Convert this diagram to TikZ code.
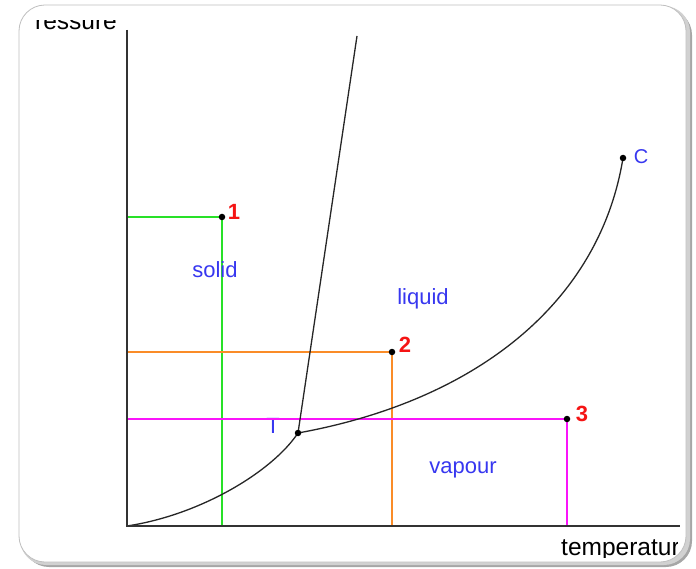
\documentclass[tikz,border=0pt]{standalone}
\usepackage{fontspec}
\setmainfont{Liberation Sans}
\definecolor{phaseblue}{RGB}{55,55,240}
\definecolor{ptred}{RGB}{245,20,20}
\definecolor{linegreen}{RGB}{40,225,40}
\definecolor{lineorange}{RGB}{250,140,40}
\definecolor{linemagenta}{RGB}{250,20,250}
\tikzset{
  dot/.style={circle,fill=black,inner sep=0pt,minimum size=6.5pt},
  phaselab/.style={text=phaseblue,font=\fontsize{22}{24}\selectfont,inner sep=0pt},
  numlab/.style={text=ptred,font=\fontsize{22}{24}\selectfont\bfseries,inner sep=0pt},
  axislab/.style={font=\fontsize{24.5}{26}\selectfont,inner sep=0pt},
  curve/.style={line width=1.3pt,black!85},
}
\begin{document}
\begin{tikzpicture}[x=1pt,y=-1pt]
\useasboundingbox (0,0) rectangle (696,569);
\fill[black!35,rounded corners=26pt] (23,9) rectangle (692,567);
\fill[black!18,rounded corners=26pt] (20,6) rectangle (690,565);
\filldraw[fill=white,draw=black!25,line width=0.8pt,rounded corners=26pt] (19,5) rectangle (686,562);

\coordinate (O) at (127,526);
\coordinate (ytop) at (127,30);
\coordinate (xend) at (680,526);
\coordinate (fus) at (357,36);
\coordinate (c1) at (222,217);
\coordinate (c2) at (392,352);
\coordinate (c3) at (567,419);
\coordinate (ct) at (298,433);
\coordinate (cc) at (623,158);

\begin{scope}
\clip (36,21) rectangle (677,557);
\node[axislab,anchor=base east] (plab) at (117,30) {pressure};
\node[axislab,anchor=base west] (tlab) at (561,555) {temperature};
\end{scope}

\node[phaselab,anchor=north] (tname) at (273,418) {T};

\draw[linegreen,line width=1.6pt] (O |- c1) -- (c1) -- (c1 |- O);
\draw[lineorange,line width=1.6pt] (O |- c2) -- (c2) -- (c2 |- O);
\draw[linemagenta,line width=1.6pt] (O |- c3) -- (c3) -- (c3 |- O);

\draw[curve] (O) .. controls (200,515) and (272,472) .. (ct);
\draw[curve] (ct) -- (fus);
\draw[curve] (ct) .. controls (480,400) and (600,300) .. (cc);

\draw[line width=1.5pt,black!80] (ytop) -- (O) -- (xend);

\node[dot] (p1) at (c1) {};
\node[dot] (p2) at (c2) {};
\node[dot] (p3) at (c3) {};
\node[dot] (trip) at (ct) {};
\node[dot] (crit) at (cc) {};

\node[numlab] (n1) at (234,212) {1};
\node[numlab] (n2) at (405,345) {2};
\node[numlab] (n3) at (582,414) {3};
\node[phaselab,font=\fontsize{20}{22}\selectfont] (clab) at (641,157) {C};

\node[phaselab] (solid) at (215,270) {solid};
\node[phaselab] (liquid) at (423,299) {liquid};
\node[phaselab] (vapour) at (463,470) {vapour};
\end{tikzpicture}
\end{document}
